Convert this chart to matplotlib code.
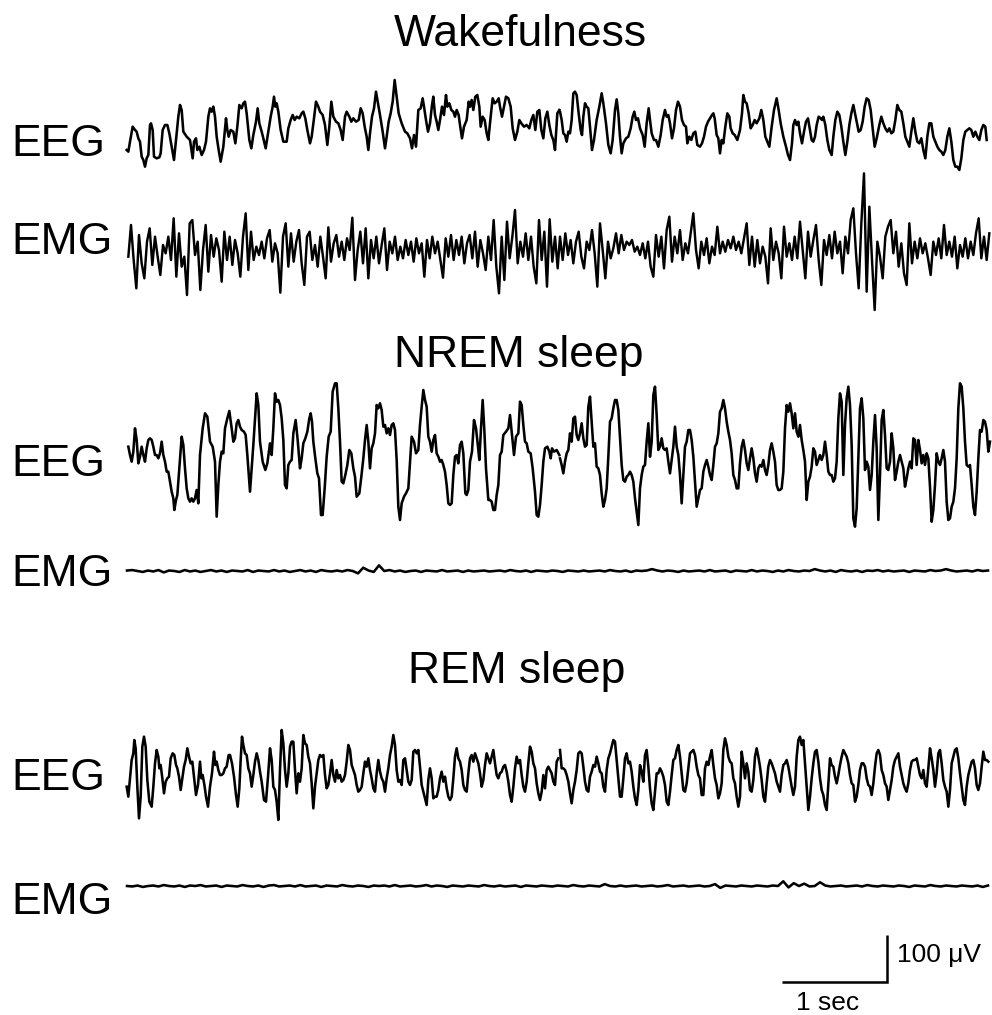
import numpy as np
import matplotlib
matplotlib.use("Agg")
import matplotlib.pyplot as plt

plt.rcParams['font.family'] = ['Liberation Sans', 'DejaVu Sans']

# ---------------------------------------------------------------------------
# DATA: traces.
# EEG / wake-EMG traces: (x, y) vertices read on 3x zoomed crops of the image;
# they are converted to seconds / microvolts below with the scale-bar
# calibration (1 s and 100 uV bars).
# ---------------------------------------------------------------------------
TITLES = ["Wakefulness", "NREM sleep", "REM sleep"]
CHANNELS = ["EEG", "EMG", "EEG", "EMG", "EEG", "EMG"]
SCALE_TIME_LABEL = "1 sec"
SCALE_VOLT_LABEL = "100 \u03bcV"
SCALE_TIME_S = 1.0
SCALE_VOLT_UV = 100.0

WAKE_EEG_LEFT = [
    (20,240),(25,245),(30,215),(38,170),(45,180),(50,185),(55,205),(60,215),(65,260),(70,270),
    (75,290),(80,265),(85,255),(90,165),(93,160),(98,180),(102,260),(110,265),(118,262),(122,250),
    (128,180),(135,165),(142,165),(148,190),(155,230),(162,270),(168,210),(175,140),(180,105),(185,120),
    (190,185),(200,200),(210,210),(218,265),(222,215),(228,205),(232,240),(238,230),(245,255),(252,240),
    (258,215),(265,140),(270,115),(275,125),(280,110),(285,140),(290,200),(296,240),(302,275),(310,230),
    (318,145),(322,180),(326,200),(332,180),(340,185),(346,220),(352,170),(358,105),(365,115),(370,100),
    (375,95),(380,130),(388,210),(394,235),(400,195),(408,155),(413,115),(418,160),(425,185),(430,205),
    (437,235),(444,190),(452,140),(458,110),(462,80),(466,110),(470,100),(475,125),(482,180),(490,215),
    (500,215),(505,175),(512,150),(518,135),(524,150),(530,140),(538,145),(545,130),(550,125),(556,145),
    (562,180),(570,220),(575,200),(582,145),(588,95),(595,110),(600,125),(608,135),(615,165),(622,225),
    (628,170),(634,95),(640,140),(648,155),(655,160),(662,180),(668,210),(675,140),(680,125),(688,140),
    (694,155),(700,145),(708,155),(716,150),(722,115),(728,130),(734,170),(740,200),(745,240),(750,190),
    (756,140),(762,115),(768,65),(774,100),(780,135),(788,185),(795,235),(800,200),(806,155),(812,130),
    (818,95),(824,30),(830,80),(836,130),(845,160),(855,185),(862,190),(870,205),(876,235),(882,195),
    (888,230),(895,120),(902,115),(908,85),(912,110),(918,150),(924,185),(930,160),(936,105),(940,80),
    (945,135),(950,155),(955,180),(960,150),(966,110),(972,135),(978,75),(982,110),(988,100),(994,120),
    (1000,125),(1005,140),(1010,120),(1016,135),(1020,165),(1026,205),(1032,170),(1040,150),(1046,95),(1050,110),
    (1055,90),(1060,120),(1066,80),(1072,75),(1078,110),(1082,170),(1088,140),(1094,150),(1100,190),(1105,210),
    (1112,140),(1118,85),(1124,100),(1130,95),(1136,85),(1140,110),(1146,140),(1152,110),(1158,80),(1165,85),
    (1172,110),(1178,175),(1185,210),(1192,185),(1198,150),(1204,160),(1212,170),(1220,165),(1228,175),(1234,150),
    (1240,135),(1246,180),(1252,125),(1258,120),(1264,180),(1270,205),(1276,145),(1282,125),(1288,165),(1294,195),
    (1300,210),(1305,240),(1312,130),(1318,120),
]
WAKE_EEG_RIGHT = [
    (30,125),(35,150),(40,190),(45,195),(50,215),(55,185),(60,190),(65,150),(70,70),(75,65),
    (80,75),(86,130),(92,180),(96,195),(100,140),(105,100),(110,110),(115,115),(120,170),(126,240),
    (132,210),(140,150),(148,110),(155,70),(160,100),(168,160),(175,225),(182,250),(188,210),(195,120),
    (200,88),(205,130),(210,200),(215,250),(220,220),(228,205),(235,200),(242,175),(248,140),(253,125),
    (258,150),(264,145),(270,175),(278,195),(284,230),(290,160),(296,115),(300,150),(305,190),(312,210),
    (318,210),(325,230),(332,195),(338,150),(345,120),(350,140),(355,135),(360,160),(366,205),(372,175),
    (378,120),(384,95),(390,110),(396,150),(402,165),(408,170),(412,220),(418,200),(424,210),(430,190),
    (436,185),(442,225),(450,230),(456,220),(462,200),(468,170),(474,155),(480,145),(486,135),(490,130),
    (494,145),(500,195),(505,205),(510,250),(515,210),(520,220),(526,170),(532,130),(538,140),(542,175),
    (548,190),(554,195),(562,210),(570,180),(576,130),(580,75),(585,95),(590,100),(596,130),(602,175),
    (608,165),(614,150),(620,160),(628,145),(634,120),(640,150),(646,200),(652,215),(658,230),(665,170),
    (672,120),(680,85),(686,120),(692,160),(700,200),(708,230),(714,255),(720,270),(726,220),(730,165),
    (735,150),(740,165),(745,155),(750,190),(756,220),(762,185),(768,155),(774,145),(780,180),(785,210),
    (790,215),(795,200),(800,165),(806,140),(812,145),(816,150),(820,140),(826,165),(832,210),(838,240),
    (845,255),(850,200),(856,150),(862,125),(868,135),(874,170),(880,215),(886,255),(892,215),(898,165),
    (904,130),(910,105),(915,130),(920,155),(926,185),(932,180),(938,155),(944,110),(950,85),(956,90),
    (962,120),(968,175),(974,230),(980,205),(988,165),(994,140),(1000,160),(1006,175),(1012,185),(1018,175),
    (1024,190),(1030,185),(1036,150),(1042,105),(1048,120),(1054,125),(1060,160),(1066,200),(1072,215),(1078,230),
    (1084,185),(1090,145),(1096,185),(1102,215),(1108,220),(1114,205),(1120,240),(1126,265),(1132,200),(1138,160),
    (1144,160),(1150,200),(1156,215),(1162,230),(1168,240),(1174,245),(1180,255),(1186,240),(1192,200),(1198,175),
    (1204,215),(1210,270),(1216,290),(1222,290),(1228,300),(1234,265),(1240,210),(1246,185),(1252,180),(1258,175),
    (1264,180),(1270,200),(1276,185),(1282,200),(1288,210),(1294,180),(1300,165),(1306,170),(1310,210),
]

# Wake EMG: vertical readings every 8 zoom-px (left half from x=25, right half from x=30)
WAKE_EMG_LEFT = [
    260,165,270,355,195,280,325,215,175,285,200,260,315,225,250,200,270,145,320,190,
    290,260,375,160,150,255,215,360,240,165,305,195,260,205,240,335,185,270,200,285,
    210,250,320,200,130,300,185,270,230,255,215,265,205,180,275,220,250,368,200,160,
    290,190,275,215,180,280,345,200,185,270,225,290,200,260,325,172,275,220,195,260,
    215,270,205,240,143,330,240,185,280,175,325,210,265,200,280,225,175,300,215,250,
    200,270,230,265,210,255,215,275,205,250,220,320,210,265,200,250,215,270,323,205,
    260,195,270,210,255,200,280,220,195,265,185,290,210,250,300,200,270,150,290,370,
    200,330,155,265,200,120,280,215,260,190,270,200,290,340,150,270,185,350,148,275,
    200,295,
]
WAKE_EMG_RIGHT = [
    200,270,190,255,210,280,215,185,260,295,215,240,180,250,350,160,240,325,215,265,
    235,190,250,195,240,215,225,210,245,230,255,220,265,215,290,320,195,260,200,295,
    180,140,275,200,250,180,270,220,250,190,130,240,295,215,255,205,280,230,255,170,
    250,215,245,210,235,200,240,215,250,205,160,285,200,290,210,280,230,260,340,175,
    270,215,250,325,170,260,220,270,200,265,155,240,325,185,260,210,165,270,345,210,
    255,195,265,185,250,215,310,200,250,150,115,250,355,160,10,365,110,270,420,215,
    260,325,200,170,150,250,185,290,220,310,345,160,280,215,265,205,250,220,265,315,
    215,255,205,265,165,255,215,260,200,295,225,260,205,265,215,255,190,145,265,200,
    270,190,
]

NREM_EEG_LEFT = [
    (25,215),(30,240),(35,260),(40,230),(45,160),(50,195),(55,265),(60,245),(65,215),(70,240),
    (75,260),(80,220),(85,195),(90,190),(95,195),(100,215),(105,240),(110,240),(115,250),(120,235),
    (125,200),(130,240),(135,260),(140,290),(145,290),(150,320),(155,350),(160,370),(163,405),(168,375),
    (172,360),(178,280),(185,185),(190,210),(195,280),(200,340),(205,370),(210,380),(215,370),(220,380),
    (225,370),(230,345),(235,385),(240,240),(248,160),(255,115),(262,125),(270,200),(278,215),(285,260),
    (290,425),(295,330),(300,260),(305,230),(310,235),(315,160),(322,130),(328,108),(335,160),(340,200),
    (345,190),(350,145),(355,135),(360,155),(365,165),(372,170),(377,180),(382,240),(390,350),(395,280),
    (400,210),(405,130),(410,55),(415,90),(420,200),(428,260),(436,285),(442,265),(450,205),(455,240),
    (460,160),(465,55),(470,80),(475,75),(480,90),(485,130),(490,195),(495,330),(500,340),(505,270),
    (510,260),(515,255),(520,175),(527,135),(533,195),(540,280),(545,250),(550,205),(556,190),(562,170),
    (568,130),(572,115),(576,140),(580,200),(586,250),(592,295),(597,310),(603,420),(608,420),(614,340),
    (620,245),(626,185),(632,170),(638,50),(645,25),(650,25),(655,100),(660,200),(665,320),(670,325),
    (676,300),(682,270),(688,225),(694,235),(700,280),(705,305),(710,365),(718,355),(724,305),(730,250),
    (735,195),(740,150),(745,200),(750,280),(755,220),(760,205),(765,175),(770,90),(775,100),(780,85),
    (785,105),(790,155),(795,150),(800,175),(805,160),(810,180),(815,150),(820,145),(825,165),(830,255),
    (835,395),(840,435),(845,385),(852,365),(858,355),(865,340),(870,260),(875,185),(882,200),(888,235),
    (895,225),(900,150),(905,95),(910,45),(915,75),(920,95),(925,185),(930,200),(935,230),(940,195),
    (945,180),(950,235),(955,245),(960,260),(965,255),(970,270),(975,290),(980,330),(985,385),(990,390),
    (995,385),(1000,300),(1005,245),(1010,240),(1015,265),(1020,210),(1025,200),(1030,235),(1036,355),(1040,360),
    (1045,345),(1050,260),(1056,230),(1062,135),(1068,160),(1074,215),(1078,255),(1083,160),(1088,75),(1093,165),
    (1098,280),(1105,375),(1110,375),(1115,380),(1120,405),(1125,405),(1130,360),(1135,330),(1140,240),(1145,230),
    (1150,180),(1158,170),(1165,160),(1170,120),(1175,170),(1182,240),(1188,185),(1195,175),(1200,80),(1205,90),
    (1210,150),(1215,200),(1220,205),(1225,230),(1232,235),(1238,280),(1245,350),(1250,420),(1255,425),(1260,390),
    (1265,330),(1270,260),(1275,220),(1282,215),(1288,230),(1292,250),(1296,220),(1302,230),(1310,225),(1318,240),
]
NREM_EEG_RIGHT = [
    (30,250),(35,270),(40,295),(45,260),(50,235),(55,225),(60,175),(65,200),(70,130),(75,125),
    (80,180),(85,195),(90,175),(95,145),(100,190),(105,215),(110,210),(115,95),(120,65),(125,140),
    (130,215),(135,205),(140,275),(145,280),(150,300),(155,355),(160,395),(165,375),(170,340),(175,245),
    (180,140),(185,130),(190,100),(195,75),(200,75),(205,105),(210,190),(215,270),(220,315),(225,320),
    (230,305),(235,300),(240,290),(245,300),(250,320),(255,370),(260,410),(265,450),(270,340),(275,300),
    (280,275),(285,270),(290,200),(295,145),(300,245),(305,200),(310,60),(315,35),(320,120),(325,225),
    (330,215),(335,190),(340,220),(345,225),(350,220),(355,260),(360,295),(365,255),(370,215),(375,155),
    (380,215),(385,240),(390,300),(395,385),(400,300),(405,215),(410,200),(415,165),(420,165),(425,195),
    (430,245),(435,320),(440,395),(445,370),(450,345),(455,340),(460,290),(465,270),(470,255),(475,275),
    (480,300),(485,315),(490,270),(495,215),(500,205),(505,175),(510,110),(515,100),(520,75),(525,100),
    (530,140),(535,170),(540,195),(545,235),(550,300),(555,315),(560,340),(565,340),(570,265),(575,215),
    (580,195),(585,225),(590,265),(595,285),(600,250),(605,220),(610,250),(615,295),(620,320),(625,280),
    (630,270),(635,275),(640,255),(645,285),(650,300),(655,270),(660,225),(665,205),(670,230),(675,260),
    (680,330),(685,345),(690,345),(695,340),(700,290),(705,160),(710,90),(715,110),(720,85),(725,115),
    (730,160),(735,115),(740,170),(745,185),(750,150),(755,195),(760,225),(765,260),(770,375),(775,320),
    (780,305),(785,275),(790,220),(795,230),(800,270),(805,255),(810,240),(815,255),(820,240),(825,200),
    (830,240),(835,290),(840,300),(845,300),(850,320),(855,310),(860,260),(865,130),(870,55),(875,80),
    (880,300),(885,150),(890,70),(895,35),(900,90),(905,210),(910,430),(915,455),(920,400),(925,250),
    (930,100),(935,70),(940,130),(945,285),(950,260),(955,275),(960,345),(965,300),(970,200),(975,120),
    (980,220),(985,435),(990,300),(995,135),(1000,105),(1005,180),(1010,280),(1015,285),(1020,260),(1025,175),
    (1030,220),(1035,315),(1040,290),(1045,260),(1050,240),(1055,260),(1060,280),(1065,335),(1070,310),(1075,280),
    (1080,260),(1085,280),(1090,190),(1095,195),(1100,270),(1105,195),(1110,225),(1115,265),(1120,240),(1125,270),
    (1130,235),(1135,250),(1140,335),(1145,440),(1150,405),(1155,330),(1160,235),(1165,260),(1170,270),(1175,250),
    (1180,225),(1185,260),(1190,380),(1195,435),(1200,430),(1205,395),(1210,380),(1215,340),(1220,250),(1225,100),
    (1230,25),(1235,35),(1240,100),(1245,200),(1250,270),(1255,275),(1260,270),(1265,330),(1270,395),(1275,420),
    (1280,350),(1285,250),(1290,165),(1295,170),(1300,135),(1305,140),(1310,165),(1315,230),(1320,200),
]

REM_EEG_LEFT = [
    (20,200),(25,230),(30,175),(35,120),(40,100),(43,60),(47,85),(52,200),(57,295),(62,230),
    (67,80),(72,50),(77,80),(82,180),(88,245),(95,260),(100,200),(105,130),(110,90),(115,110),
    (118,145),(122,135),(127,175),(132,220),(137,185),(142,175),(147,170),(152,115),(158,100),(163,105),
    (168,135),(172,145),(177,170),(182,210),(187,175),(192,140),(197,120),(202,85),(207,110),(212,130),
    (217,125),(222,170),(228,225),(234,195),(240,125),(244,175),(248,165),(254,200),(258,230),(264,260),
    (270,200),(276,160),(282,95),(286,135),(290,125),(295,150),(300,165),(305,165),(310,160),(315,145),
    (320,140),(326,105),(330,105),(336,130),(342,170),(348,225),(353,260),(358,205),(362,120),(366,50),
    (370,75),(375,100),(380,105),(385,145),(390,160),(395,200),(400,165),(405,125),(410,100),(415,120),
    (420,155),(425,185),(432,240),(438,245),(444,170),(450,85),(455,120),(460,200),(465,210),(470,245),
    (475,300),(480,150),(485,30),(490,70),(495,150),(500,200),(505,160),(510,80),(515,65),(520,65),
    (525,150),(530,220),(535,160),(540,185),(545,145),(550,45),(555,70),(560,75),(565,110),(570,130),
    (575,190),(580,265),(585,200),(590,160),(595,120),(600,105),(605,110),(610,105),(615,165),(620,205),
    (625,195),(630,160),(635,120),(640,165),(645,185),(650,150),(655,175),(660,165),(665,185),(670,180),
    (675,165),(680,125),(685,75),(690,90),(695,135),(700,150),(705,165),(710,195),(715,215),(720,210),
    (725,200),(730,160),(735,125),(740,140),(745,115),(750,150),(755,175),(760,205),(765,215),(770,160),
    (775,120),(780,155),(785,175),(790,185),(795,215),(800,175),(805,145),(810,105),(815,80),(820,45),
    (825,75),(830,150),(835,185),(840,180),(845,195),(850,120),(855,115),(860,150),(865,185),(870,195),
    (875,180),(880,95),(885,90),(890,100),(895,90),(900,140),(905,195),(910,215),(915,235),(920,255),
    (925,180),(930,145),(935,175),(940,235),(945,230),(950,230),(955,210),(960,175),(965,155),(970,185),
    (975,170),(980,205),(985,230),(990,240),(995,230),(1000,175),(1005,110),(1010,85),(1015,115),(1020,125),
    (1025,150),(1030,195),(1035,210),(1040,215),(1045,160),(1050,115),(1055,105),(1060,125),(1065,100),(1070,115),
    (1075,130),(1080,160),(1085,200),(1090,180),(1095,135),(1100,100),(1105,115),(1110,130),(1115,110),(1120,90),
    (1125,130),(1130,165),(1135,175),(1140,160),(1145,155),(1150,140),(1155,135),(1160,155),(1165,185),(1170,225),
    (1175,245),(1180,200),(1185,145),(1190,110),(1195,130),(1200,120),(1205,165),(1210,200),(1215,215),(1220,185),
    (1225,130),(1230,80),(1235,95),(1240,130),(1245,145),(1250,190),(1255,220),(1260,240),(1265,215),(1270,165),
    (1275,205),(1280,150),(1285,140),(1290,150),(1295,160),(1300,185),(1305,195),(1310,125),(1315,115),
]
REM_EEG_RIGHT = [
    (30,90),(35,145),(40,145),(45,150),(50,165),(55,185),(60,220),(65,250),(70,210),(75,185),
    (80,150),(85,100),(90,95),(95,100),(100,140),(105,185),(110,210),(115,215),(120,170),(125,155),
    (130,135),(135,140),(140,110),(145,130),(150,155),(155,160),(160,200),(165,215),(170,150),(175,115),
    (180,100),(185,80),(190,60),(195,65),(200,120),(205,175),(210,230),(215,230),(220,175),(225,115),
    (230,100),(235,130),(240,125),(245,155),(250,200),(255,235),(260,255),(265,210),(270,135),(275,155),
    (280,185),(285,105),(290,90),(295,140),(300,205),(305,250),(310,270),(315,215),(320,160),(325,160),
    (330,145),(335,155),(340,170),(345,195),(350,245),(355,255),(360,215),(365,165),(370,120),(375,115),
    (380,90),(385,75),(390,110),(395,160),(400,210),(405,215),(410,190),(415,145),(420,100),(425,95),
    (430,90),(435,105),(440,140),(445,165),(450,175),(455,225),(460,225),(465,145),(470,125),(475,135),
    (480,110),(485,90),(490,135),(495,175),(500,195),(505,235),(510,220),(515,190),(520,90),(525,55),
    (530,75),(535,110),(540,125),(545,130),(550,175),(555,190),(560,230),(565,260),(570,230),(575,95),
    (580,130),(585,175),(590,130),(595,155),(600,210),(605,215),(610,180),(615,110),(620,85),(625,110),
    (630,140),(635,180),(640,230),(645,245),(650,190),(655,140),(660,120),(665,130),(670,145),(675,160),
    (680,185),(685,200),(690,215),(695,165),(700,135),(705,130),(710,120),(715,140),(720,170),(725,200),
    (730,225),(735,200),(740,110),(745,60),(750,50),(755,75),(760,60),(765,130),(770,200),(775,270),
    (780,230),(785,175),(790,130),(795,95),(800,90),(805,125),(810,175),(815,210),(820,225),(825,255),
    (830,270),(835,190),(840,115),(845,135),(850,140),(855,170),(860,190),(865,165),(870,135),(875,110),
    (880,90),(885,100),(890,110),(895,130),(900,165),(905,190),(910,195),(915,245),(920,230),(925,195),
    (930,150),(935,130),(940,130),(945,140),(950,175),(955,195),(960,200),(965,225),(970,190),(975,140),
    (980,100),(985,90),(990,105),(995,150),(1000,165),(1005,190),(1010,200),(1015,240),(1020,210),(1025,180),
    (1030,140),(1035,120),(1040,110),(1045,100),(1050,140),(1055,165),(1060,190),(1065,205),(1070,215),(1075,190),
    (1080,150),(1085,125),(1090,120),(1095,120),(1100,115),(1105,140),(1110,165),(1115,175),(1120,150),(1125,190),
    (1130,200),(1135,145),(1140,85),(1145,115),(1150,150),(1155,200),(1160,160),(1165,100),(1170,90),(1175,130),
    (1180,180),(1185,200),(1190,215),(1195,260),(1200,210),(1205,130),(1210,110),(1215,90),(1220,85),(1225,115),
    (1230,160),(1235,200),(1240,240),(1245,255),(1250,200),(1255,165),(1260,145),(1265,125),(1270,120),(1275,145),
    (1280,195),(1285,210),(1290,190),(1295,140),(1300,95),(1305,120),(1310,120),(1315,125),
]

# Low-amplitude EMG during sleep, in microvolts, every 0.05 s
NREM_EMG_UV = [
    1,2,0,-2,1,-1,2,-3,1,0, -2,2,-1,1,-2,0,2,-1,1,-2, 1,0,-1,2,-2,1,0,-1,2,-1,
    1,-2,0,2,-1,1,-2,2,0,-1, 1,-1,2,0,-5,7,1,-2,12,0, 2,-1,1,-2,0,1,-2,1,0,-1,
    2,-1,0,1,-2,1,-1,0,1,-1, 0,1,-1,2,0,-1,1,-2,1,0, -1,1,0,-2,1,0,-1,1,-1,0,
    1,-1,2,0,-1,1,-2,1,0,1, 4,1,-1,1,0,-2,1,-1,0,1, -1,2,-1,0,1,-2,1,0,-1,2,
    -1,1,0,-2,1,-1,2,0,-1,1, 0,4,1,-1,1,-2,2,0,-1,1, -2,1,0,2,-1,1,-1,0,1,-2,
    1,0,-1,2,0,1,4,1,-1,0, 1,-1,2,0,1,
]
REM_EMG_UV = [
    0,-1,1,-2,0,1,-1,2,0,-1, 1,-2,1,0,2,-1,0,1,-2,1, 0,-1,2,0,-1,1,-2,1,2,-1,
    0,1,-1,2,-1,0,1,-2,1,0, -1,2,0,-1,1,0,-2,1,0,1, -1,2,-1,0,1,-1,0,2,-1,1,
    0,-2,1,0,-1,1,0,-1,2,0, -1,1,-1,0,1,-2,1,0,-1,1, 0,-1,1,0,-1,2,0,-1,1,0,
    -1,4,0,-1,1,-1,0,1,-1,0, 1,-1,0,2,-1,0,1,-1,0,1, -1,0,4,-4,1,0,-1,1,0,-1,
    1,0,-1,1,0,10,-3,6,0,5, -1,0,8,1,-1,0,1,-1,0,1, -1,2,0,-1,1,0,-1,1,0,-2,
    1,0,-1,2,0,-1,1,0,-1,1, 0,-1,1,-2,1,
]
EMG_STEP_S = 0.05

# ---------------------------------------------------------------------------
# Layout / calibration
# ---------------------------------------------------------------------------
W, H = 992, 1015
PX_PER_SEC = 105.0
PX_PER_UV = 47.0 / 100.0
T0_PX = 127.0
ZOOM = 3.0

def to_data(pairs, crop_x, crop_y):
    a = np.asarray(pairs, float)
    t = (crop_x + a[:, 0] / ZOOM - T0_PX) / PX_PER_SEC
    v = -(crop_y + a[:, 1] / ZOOM) / PX_PER_UV
    return t, v

def emg_grid(vals, x0, step, crop_x, crop_y):
    vals = np.asarray(vals, float)
    xs = x0 + step * np.arange(len(vals))
    return to_data(np.column_stack([xs, vals]), crop_x, crop_y)

fig = plt.figure(figsize=(W / 100, H / 100), dpi=100)
ax = fig.add_axes([0, 0, 1, 1])
ax.set_xlim(-T0_PX / PX_PER_SEC, (W - T0_PX) / PX_PER_SEC)
ax.set_ylim(-H / PX_PER_UV, 0)
ax.axis('off')

LW = 1.85
line_kw = dict(color='black', lw=LW, solid_joinstyle='round')

# Wake EEG
for pairs, cx in ((WAKE_EEG_LEFT, 120), (WAKE_EEG_RIGHT, 550)):
    t, v = to_data(pairs, cx, 70)
    ax.plot(t, v, **line_kw)
# Wake EMG
tl, vl = emg_grid(WAKE_EMG_LEFT, 25, 8, 120, 170)
tr, vr = emg_grid(WAKE_EMG_RIGHT, 30, 8, 550, 170)
ax.plot(np.concatenate([tl, tr]), np.concatenate([vl, vr]), color='black', lw=1.75)
# NREM EEG
for pairs, cx in ((NREM_EEG_LEFT, 120), (NREM_EEG_RIGHT, 550)):
    t, v = to_data(pairs, cx, 375)
    ax.plot(t, v, **line_kw)
# REM EEG
for pairs, cx in ((REM_EEG_LEFT, 120), (REM_EEG_RIGHT, 550)):
    t, v = to_data(pairs, cx, 720)
    ax.plot(t, v, **line_kw)

# Sleep EMGs (baseline rows)
for vals, row in ((NREM_EMG_UV, 571), (REM_EMG_UV, 886)):
    t = np.arange(len(vals)) * EMG_STEP_S
    ax.plot(t, -row / PX_PER_UV + np.asarray(vals, float), **line_kw)

# Scale bar
t_corner = (887 - T0_PX) / PX_PER_SEC
v_corner = -982 / PX_PER_UV
ax.plot([t_corner - SCALE_TIME_S, t_corner, t_corner],
        [v_corner, v_corner, v_corner + SCALE_VOLT_UV],
        color='black', lw=1.8, solid_joinstyle='miter', solid_capstyle='butt')

def ftext(x, y, s, size, ha='left'):
    fig.text(x / W, 1 - y / H, s, fontsize=size, ha=ha, va='center')

ftext(520, 35, TITLES[0], 32, 'center')
ftext(519, 355, TITLES[1], 32, 'center')
ftext(517, 671, TITLES[2], 32, 'center')
for lab, y in zip(CHANNELS, [145, 243, 465, 575, 778, 903]):
    ftext(11, y, lab, 32)
ftext(897, 955, SCALE_VOLT_LABEL, 19)
ftext(828, 1003, SCALE_TIME_LABEL, 19, 'center')

fig.savefig("out.png", dpi=100)
